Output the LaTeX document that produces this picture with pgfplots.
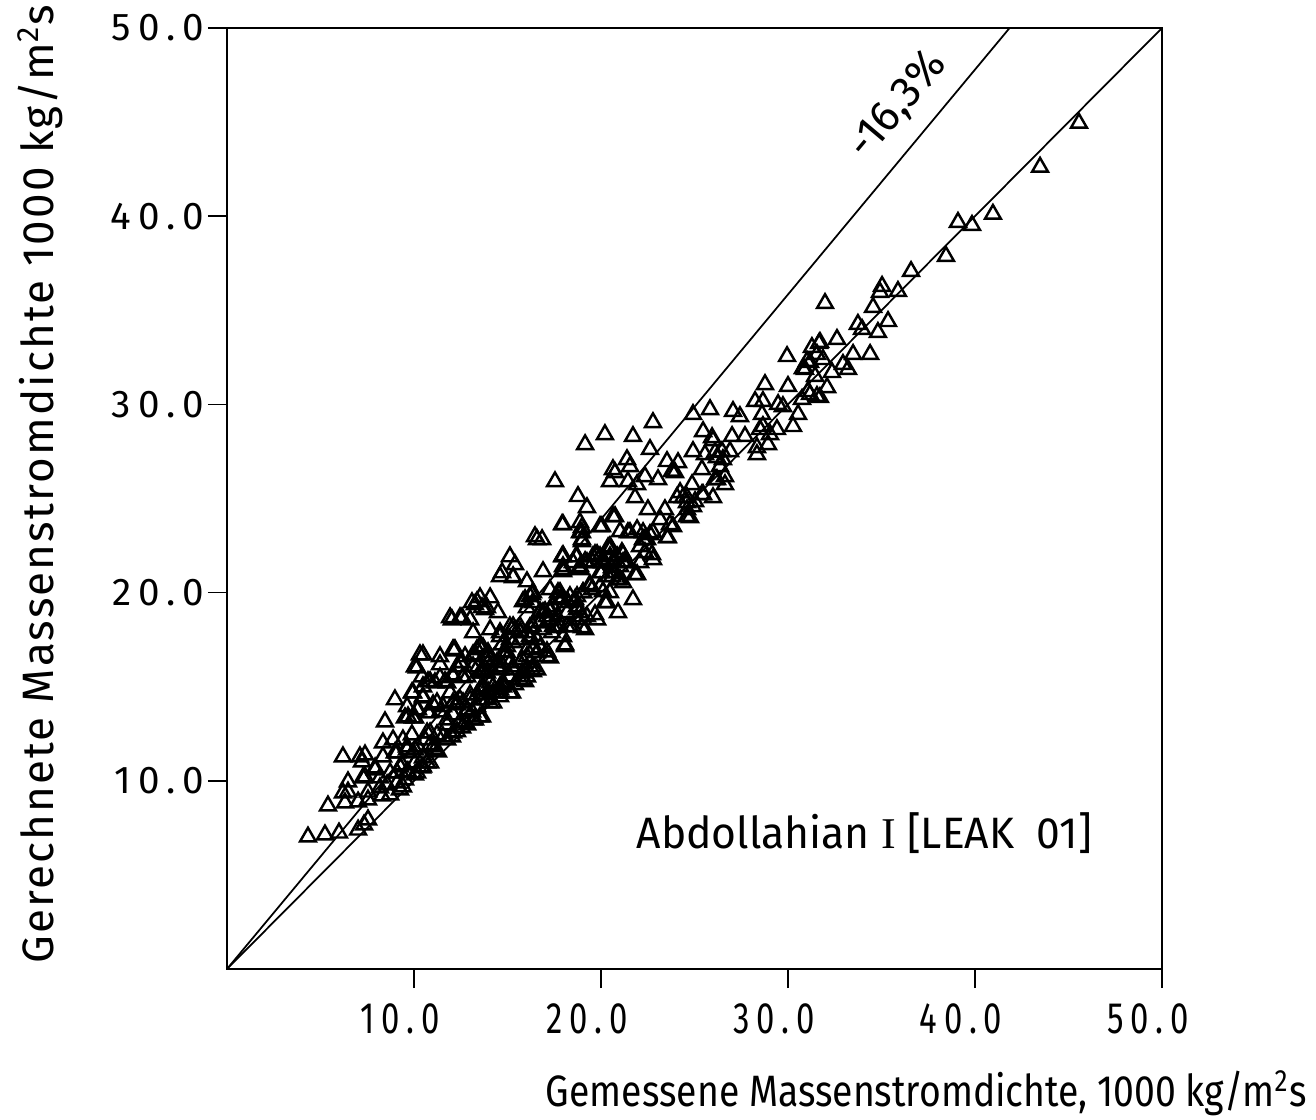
\documentclass[border=0pt]{standalone}
\usepackage{pgfplots}
\pgfplotsset{compat=1.18}
\usepackage{fontspec}
\setmainfont{Fira Sans}
\newfontfamily\condfont[FakeStretch=0.85]{Fira Sans}
\newfontfamily\xtfont[FakeStretch=0.75,LetterSpace=16]{Fira Sans}
\newfontfamily\ytfont[LetterSpace=18]{Fira Sans}
\newfontfamily\ylfont[LetterSpace=5]{Fira Sans}
\newfontfamily\notefont[FakeStretch=0.97]{Fira Sans}
\newfontfamily\seriffont{Liberation Serif}
\begin{document}
\begin{tikzpicture}
\path[use as bounding box] (-2.27cm,-1.50cm) rectangle (10.89cm,9.69cm);
\begin{axis}[
  at={(0,0)}, anchor=south west, scale only axis,
  width=9.35cm, height=9.41cm,
  xmin=0, xmax=50, ymin=0, ymax=50,
  xtick={10,20,30,40,50}, ytick={10,20,30,40,50},
  xticklabels={10.0,20.0,30.0,40.0,50.0},
  yticklabels={10.0,20.0,30.0,40.0,50.0},
  tick align=outside, xtick pos=bottom, ytick pos=left,
  major tick length=0.19cm,
  xticklabel style={font=\xtfont\fontsize{12.5}{14}\selectfont, xshift=-0.14cm, yshift=-0.03cm},
  yticklabel style={font=\ytfont\fontsize{11}{12}\selectfont, xshift=0.08cm},
  axis line style={line width=0.5pt},
  tick style={line width=0.5pt, black},
  xlabel={Gemessene Massenstromdichte, 1000 kg/m\textsuperscript{2}s},
  xlabel style={at={(axis description cs:1.168,-0.132)}, anchor=east,
    font=\condfont\fontsize{12.5}{15}\selectfont},
  ylabel={Gerechnete Massenstromdichte 1000 kg/m\textsuperscript{2}s},
  ylabel style={at={(axis description cs:-0.2,0.515)}, anchor=center,
    font=\ylfont\fontsize{12.5}{15}\selectfont},
  clip=false,
]
\addplot[black, line width=0.5pt] coordinates {(0,0) (50,50)};
\addplot[black, line width=0.5pt] coordinates {(0,0) (41.85,50)};
\addplot[only marks, mark=triangle, mark size=2.6pt, mark options={black, line width=0.7pt, fill=white}] table {
x y
4.33 7.02
5.24 7.13
5.99 7.23
7.01 7.39
7.33 7.66
7.54 7.93
5.40 8.67
6.31 8.83
6.47 9.95
6.47 9.41
6.20 9.36
7.01 8.88
7.27 10.16
7.54 9.41
7.54 8.99
7.92 10.58
8.18 10.16
8.18 9.63
8.29 9.20
8.72 9.26
8.56 9.79
9.09 10.43
9.36 10.85
9.52 10.05
9.25 9.52
9.68 10.48
10.05 10.96
10.16 10.43
10.48 10.74
10.86 10.96
6.20 11.28
7.11 11.28
7.22 11.01
8.34 11.28
8.34 12.02
8.88 12.18
9.09 11.49
7.38 11.38
9.63 11.65
10.05 11.65
9.89 12.45
10.70 12.55
11.02 11.81
11.28 11.54
11.77 12.18
12.09 12.55
12.57 12.82
12.73 13.09
13.16 13.24
13.53 13.40
11.77 12.98
8.45 13.14
8.98 14.31
9.68 13.40
10.05 13.35
9.63 13.94
9.95 14.68
10.48 14.47
10.16 13.78
10.86 13.62
11.23 14.15
11.55 13.94
12.09 14.15
12.46 14.31
12.84 13.78
13.37 13.94
13.69 14.31
14.23 14.15
10.16 16.01
10.43 15.53
10.75 15.27
11.12 15.21
11.66 15.27
12.09 15.53
12.46 16.28
12.73 16.60
13.16 16.70
13.69 17.07
13.96 16.81
10.48 16.70
11.39 16.60
11.39 16.17
12.09 16.97
13.42 16.06
13.69 15.90
13.90 15.74
14.44 16.28
14.76 16.06
15.30 15.90
15.67 16.28
16.04 15.90
16.36 16.06
15.83 15.37
15.24 14.68
14.60 15.00
13.96 14.73
13.69 15.00
13.16 17.87
14.07 18.03
11.93 18.67
12.57 18.67
13.00 18.56
13.37 19.52
14.07 19.73
13.90 19.20
14.49 18.94
14.60 20.85
15.30 20.85
15.40 21.49
16.04 20.58
16.90 21.12
17.97 21.12
14.97 17.13
15.30 17.34
15.30 18.19
15.67 17.93
16.04 17.87
16.36 18.19
16.74 18.40
16.90 18.94
17.27 19.10
17.65 18.72
17.43 18.19
18.18 18.19
18.08 17.23
17.11 16.60
16.36 16.97
16.04 16.60
16.58 15.90
15.67 15.37
16.20 19.79
16.36 19.47
17.27 20.16
17.81 20.00
18.34 19.79
18.61 19.52
12.14 16.91
13.26 16.70
13.53 17.13
14.07 16.44
10.48 15.00
11.77 15.21
12.62 15.48
13.53 15.74
14.60 16.06
15.13 16.28
16.20 16.28
16.36 15.80
14.76 15.21
14.23 15.00
13.69 14.84
13.37 14.57
10.48 14.41
10.21 13.78
11.02 14.04
11.93 14.68
12.30 14.15
13.00 14.31
13.90 14.31
14.60 14.68
9.52 13.35
9.95 13.35
10.75 13.62
11.39 13.67
11.77 13.24
12.09 13.51
12.46 13.14
12.84 12.98
13.26 13.24
13.64 13.40
12.84 13.67
9.41 12.18
9.63 11.81
10.21 11.81
10.59 12.18
10.86 12.55
11.23 12.45
11.55 12.34
12.03 12.34
12.30 12.61
10.86 11.91
11.12 11.65
8.98 11.49
9.95 11.49
10.48 11.22
10.70 10.96
7.92 10.69
8.72 10.43
9.25 10.74
9.63 10.48
10.05 10.32
10.43 10.69
7.38 10.21
9.09 9.89
9.41 9.68
15.13 21.91
14.71 21.06
15.30 20.80
16.58 22.82
18.98 22.71
17.97 21.97
18.66 21.91
17.97 21.22
18.88 21.28
19.25 21.60
19.79 22.02
20.48 22.39
21.12 22.13
20.11 21.60
20.64 21.65
21.18 21.60
19.95 21.06
20.59 20.85
21.02 20.69
17.65 19.73
18.24 19.47
18.72 19.79
19.04 20.00
19.41 20.32
20.11 20.05
20.48 20.00
20.21 19.47
20.91 18.94
19.79 18.56
19.25 18.72
18.72 18.56
18.98 18.14
18.34 18.19
16.31 19.89
15.83 19.52
16.04 19.20
16.74 18.99
17.27 18.99
16.74 18.46
17.27 18.56
17.65 18.14
17.97 17.66
17.27 16.54
16.74 17.07
16.20 18.14
15.67 18.19
15.24 18.03
15.13 17.50
15.67 17.50
16.20 17.66
16.58 17.50
16.04 16.97
16.58 16.81
17.11 16.86
13.53 19.73
13.26 19.36
13.80 19.10
12.46 18.67
12.03 18.56
12.19 16.97
13.37 16.97
13.96 16.60
14.87 16.86
14.71 17.23
14.60 17.66
14.97 16.44
14.07 16.06
13.69 15.80
12.30 16.06
12.62 15.53
12.09 15.64
15.13 15.53
15.78 15.74
15.94 15.27
15.40 15.11
14.76 15.00
14.23 14.68
13.53 14.31
13.00 14.57
12.62 14.15
12.30 14.04
13.10 13.67
14.07 14.15
14.60 14.47
15.13 14.68
24.92 29.47
25.83 29.73
22.78 29.04
20.21 28.40
21.71 28.30
19.15 27.87
22.62 27.61
25.46 28.56
25.94 28.24
24.92 27.50
25.56 27.34
26.20 27.18
21.39 27.07
21.55 26.70
20.64 26.54
20.48 25.90
21.44 25.90
21.93 25.74
22.35 26.17
23.05 26.01
23.53 26.97
24.12 26.91
23.85 26.44
25.40 26.54
24.87 25.74
24.23 25.32
24.60 25.05
25.40 25.21
26.20 26.01
17.54 25.90
18.77 25.11
19.25 24.52
17.92 23.62
18.88 23.72
18.98 23.19
18.98 22.82
19.95 23.51
20.64 24.04
21.82 25.05
22.51 24.41
23.42 24.41
23.16 23.88
23.69 23.62
23.53 22.92
24.60 24.04
24.92 24.57
16.47 22.98
21.02 23.24
21.55 23.19
21.93 23.35
22.25 23.19
22.46 22.82
22.78 23.19
22.09 22.45
22.35 22.13
22.78 21.76
22.09 21.60
21.82 20.96
20.48 22.29
20.11 21.76
20.86 21.91
21.39 21.60
20.64 21.06
20.91 20.69
19.57 21.91
19.15 21.65
18.88 21.22
17.97 21.38
18.50 21.60
16.36 20.00
15.94 19.63
19.41 20.43
19.95 20.32
20.32 19.47
21.71 19.63
18.98 18.72
18.72 19.10
19.15 18.03
18.50 18.19
18.18 18.94
17.81 19.63
17.43 19.26
17.11 18.72
16.74 18.94
17.81 18.19
17.38 17.87
16.90 18.03
18.08 17.13
16.04 15.53
15.78 16.44
15.30 16.06
14.60 15.90
14.97 16.81
14.60 17.87
15.13 18.19
15.67 17.87
16.20 17.50
13.10 19.47
13.64 19.20
10.32 16.70
12.57 16.28
10.05 16.06
10.86 15.27
11.39 15.48
9.89 14.68
13.53 17.07
13.80 16.60
13.16 16.06
12.84 15.53
13.69 15.74
14.44 16.06
14.07 15.21
14.60 14.84
13.53 14.84
35.03 36.28
34.92 35.96
31.98 35.37
34.55 35.16
35.35 34.41
33.74 34.26
33.96 33.99
34.81 33.83
32.62 33.46
31.71 33.30
31.28 33.03
31.55 32.66
31.87 32.39
29.95 32.55
31.02 32.29
30.91 31.86
32.35 31.70
32.94 32.13
33.21 31.86
33.48 32.66
34.39 32.66
31.45 31.49
28.77 31.06
30.00 30.96
32.09 30.90
31.07 30.69
31.55 30.43
30.75 30.27
28.24 30.16
28.66 30.16
29.47 30.00
29.73 29.89
30.54 29.47
30.27 28.83
28.61 29.47
28.66 28.83
28.50 28.67
29.41 28.67
29.04 28.40
28.93 27.87
28.34 27.71
28.34 27.34
27.70 28.30
27.01 28.30
27.43 29.36
27.06 29.63
26.10 27.45
26.47 27.50
26.90 27.50
26.52 27.07
26.36 26.70
26.63 26.17
26.63 25.74
24.39 25.05
25.46 25.21
25.03 24.84
24.60 24.41
24.65 24.04
23.85 23.51
23.58 22.92
23.80 26.44
22.25 22.82
22.62 23.09
18.88 23.19
17.97 23.62
20.48 22.45
21.18 22.02
19.95 21.91
19.57 21.60
18.88 21.38
17.97 21.91
45.56 44.95
43.48 42.61
40.96 40.11
39.09 39.68
39.84 39.52
38.45 37.87
36.58 37.07
35.88 36.01
31.66 33.24
31.18 32.23
30.80 31.91
31.18 30.53
31.71 30.37
25.99 28.08
20.75 26.38
23.96 26.38
26.10 26.01
24.06 25.05
24.60 24.79
25.99 25.05
24.76 23.99
20.75 24.04
20.05 23.51
21.44 23.19
22.35 22.82
22.73 22.02
18.98 23.46
16.85 22.82
17.92 21.91
18.72 21.91
19.68 22.02
20.38 22.39
20.48 21.91
21.28 21.65
21.02 21.38
20.59 21.33
20.05 21.60
20.05 21.06
20.38 20.85
20.86 20.69
21.18 20.53
21.93 20.96
19.52 20.16
19.04 20.00
18.61 19.63
18.72 19.26
17.92 19.63
17.70 20.00
19.68 18.83
17.01 18.99
18.88 18.94
};
\node[rotate=50, font=\fontsize{12.5}{15}\selectfont] at (axis cs:35.9,45.9) {-16,3\%};
\node[anchor=west, inner sep=0pt, font=\notefont\fontsize{12.5}{15}\selectfont] at (axis cs:21.87,7.23) {Abdollahian {\seriffont I} [LEAK\ \ 01]};
\end{axis}
\end{tikzpicture}
\end{document}
